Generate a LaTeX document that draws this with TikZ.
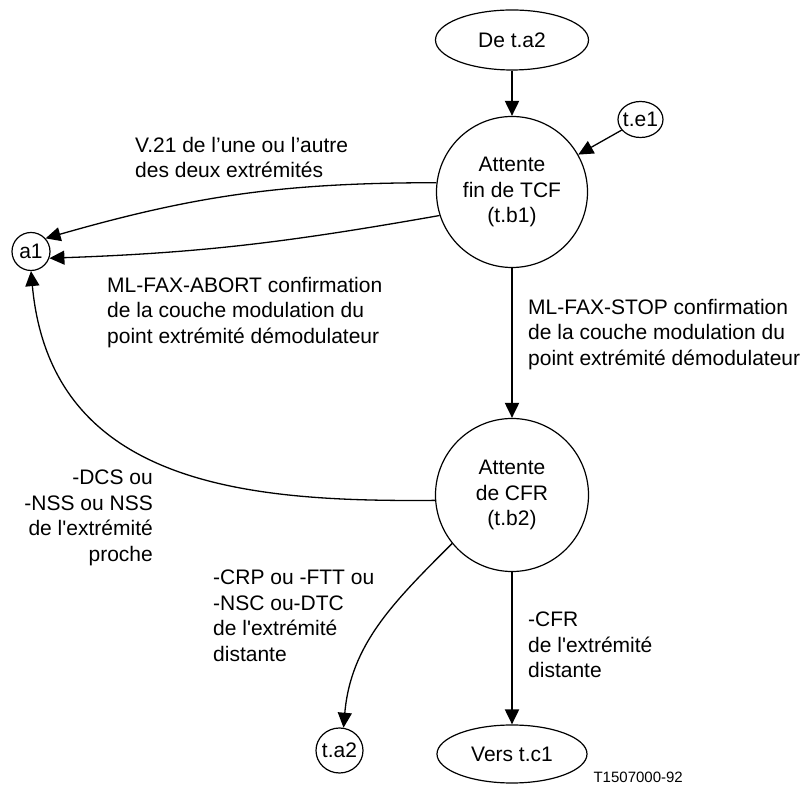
\documentclass[tikz,border=0pt]{standalone}
\usepackage{fontspec}
\setmainfont{Liberation Sans}
\usetikzlibrary{arrows.meta,shapes.geometric}

\begin{document}
\begin{tikzpicture}[x=1pt,y=1pt,
  txt/.style={font=\fontsize{21}{25.5}\selectfont},
  lbl/.style={txt, inner sep=0pt},
  state/.style={txt, circle, draw, line width=1.2pt, minimum size=151pt, inner sep=0pt, align=center},
  term/.style={txt, ellipse, draw, line width=1.2pt, inner sep=0pt},
  refc/.style={txt, circle, draw, line width=1.2pt, inner sep=0pt},
  tip/.style={-{Triangle[length=15pt,width=14pt]}},
  conn/.style={tip, line width=1.3pt},
  trunk/.style={tip, line width=2pt},
]
\useasboundingbox (0,0) rectangle (809,787);

% states and terminals
\node[term, minimum width=153pt, minimum height=60pt] (src) at (512,747) {De t.a2};
\node[state] (tb1) at (512,595) {Attente\\fin de TCF\\(t.b1)};
\node[term, minimum width=45pt, minimum height=36pt] (te1) at (640.5,667.5) {\makebox[0pt]{t.e1}};
\node[refc, minimum size=38pt] (a1) at (31,535.5) {a1};
\node[state, minimum size=153pt] (tb2) at (512,292) {Attente\\de CFR\\(t.b2)};
\node[term, minimum width=47pt, minimum height=45pt] (ta2) at (339.5,36.5) {\makebox[0pt]{t.a2}};
\node[term, minimum width=150pt, minimum height=58pt] (dst) at (512,33) {Vers t.c1};

% transition labels
\node[lbl, anchor=north west, align=left] (l1) at (135,650.3)
  {V.21 de l’une ou l’autre\\des deux extrémités};
\node[lbl, anchor=north west, align=left] (l2) at (107,510.3)
  {ML-FAX-ABORT confirmation\\de la couche modulation du\\point extrémité démodulateur};
\node[lbl, anchor=north west, align=left] (l3) at (528,488.3)
  {ML-FAX-STOP confirmation\\de la couche modulation du\\point extrémité démodulateur};
\node[lbl, anchor=north east, align=right] (l4) at (153,317.3)
  {-DCS ou\\-NSS ou NSS\\de l\textquotesingle extrémité\\proche};
\node[lbl, anchor=north west, align=left] (l5) at (213,217.3)
  {-CRP ou -FTT ou\\-NSC ou-DTC\\de l\textquotesingle extrémité\\distante};
\node[lbl, anchor=north west, align=left] (l6) at (528,175.3)
  {-CFR\\de l\textquotesingle extrémité\\distante};
\node[font=\fontsize{15}{18}\selectfont, inner sep=0pt, anchor=base east] (code) at (683,4) {T1507000-92};

% transitions
\draw[trunk] (src) -- (tb1);
\draw[conn] (te1) -- (tb1);
\draw[conn] (tb1.173) to[out=180,in=16] (a1.42);
\draw[conn] (tb1.198) to[out=190,in=2] (a1.-20);
\draw[trunk] (tb1) -- (tb2);
\draw[conn] (tb2.184) .. controls (250,285) and (51,300) .. (a1.south);
\draw[conn] (tb2.219) to[out=225,in=85] (ta2.80);
\draw[trunk] (tb2) -- (dst);
\end{tikzpicture}
\end{document}
